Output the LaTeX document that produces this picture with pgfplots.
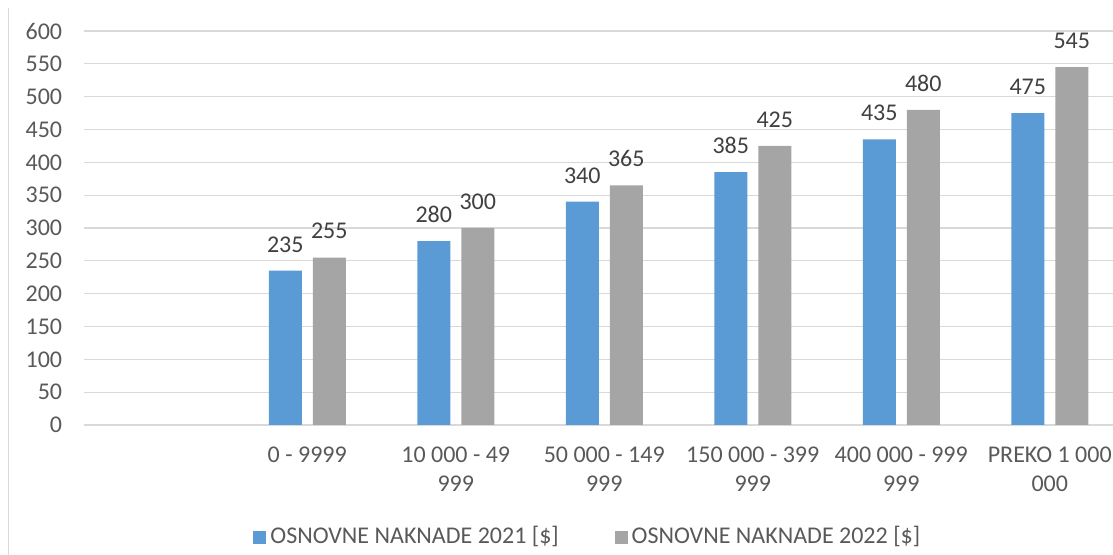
\documentclass[border=0pt]{standalone}
\usepackage{pgfplots}
\pgfplotsset{compat=1.18}
\usepackage{fontspec}
\setmainfont{Carlito}
\definecolor{blueA}{HTML}{5B9BD5}
\definecolor{grayB}{HTML}{A5A5A5}
\definecolor{txt}{HTML}{595959}
\definecolor{lbl}{HTML}{404040}
\definecolor{gridc}{HTML}{D9D9D9}
\begin{document}
\fontsize{12}{14.5}\selectfont
\begin{tikzpicture}[x=1pt,y=1pt]
\useasboundingbox (0,0) rectangle (556.5,277.5);
\draw[gridc, line width=0.75pt] (4.25,0) -- (4.25,273.5);
\begin{axis}[
  at={(42.25pt,65pt)}, anchor=south west,
  scale only axis, width=514.25pt, height=197pt,
  xmin=-0.5, xmax=6.426, ymin=0, ymax=600,
  ytick={0,50,...,600},
  xtick={0,1,2,3,4,5,6},
  xticklabels={{}, {0 - 9999}, {10 000 - 49\\999}, {50 000 - 149\\999}, {150 000 - 399\\999}, {400 000 - 999\\999}, {PREKO 1 000\\000}},
  major tick length=0pt,
  axis line style={draw=none},
  ymajorgrids, grid style={gridc, line width=0.6pt},
  ybar=5.5pt, bar width=16.5pt,
  clip=false,
  /pgf/number format/assume math mode=true,
  tick label style={font=\fontsize{12}{14.5}\selectfont, text=txt},
  yticklabel style={anchor=east, inner sep=0pt, xshift=-11pt},
  xticklabel style={align=center, inner sep=0pt, anchor=north, yshift=-11pt},
  nodes near coords,
  every node near coord/.append style={font=\fontsize{12}{14.5}\selectfont, text=lbl, inner sep=0pt, anchor=south, yshift=9pt},
  legend style={draw=none, fill=none, at={(0.1638,-0.2843)}, anchor=west, legend columns=2, inner sep=0pt,
    font=\fontsize{12}{14.5}\selectfont, text=txt,
    /tikz/every even column/.append style={column sep=26pt}},
  legend image code/.code={\fill[#1,draw=none] (0pt,-3.25pt) rectangle (6.5pt,3.25pt);},
]
\addplot[fill=blueA, draw=none] coordinates {(1,235) (2,280) (3,340) (4,385) (5,435) (6,475)};
\addplot[fill=grayB, draw=none] coordinates {(1,255) (2,300) (3,365) (4,425) (5,480) (6,545)};
\legend{OSNOVNE NAKNADE 2021 [\$], OSNOVNE NAKNADE 2022 [\$]}
\end{axis}
\end{tikzpicture}
\end{document}
